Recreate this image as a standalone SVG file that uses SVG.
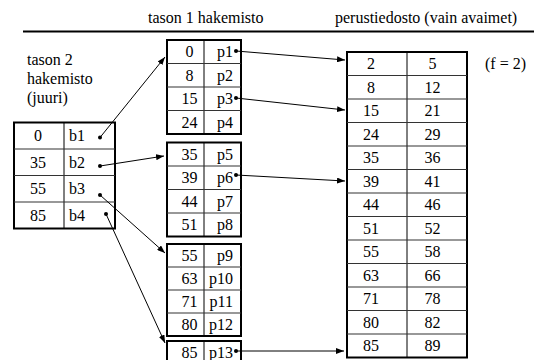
<svg xmlns="http://www.w3.org/2000/svg" width="534" height="360" viewBox="0 0 534 360" font-family="'Liberation Serif', 'DejaVu Serif', serif" font-size="16">
<style>
text{font-family:'Liberation Serif','DejaVu Serif',serif;font-size:16px;fill:#000}
.c{text-anchor:middle}
.e{text-anchor:end}
.box{fill:#fff;stroke:#000;stroke-width:2}
.in{stroke:#333;stroke-width:1.2;fill:none}
.cn{stroke:#000;stroke-width:1;fill:none}
.dot{fill:#000}
</style>
<defs>
<marker id="ah" markerUnits="userSpaceOnUse" markerWidth="8" markerHeight="6" refX="8" refY="3" orient="auto">
<path d="M0,0 L8,3 L0,6 z" fill="#000"/>
</marker>
</defs>
<rect width="534" height="360" fill="#fff"/>
<g id="headers">
<text x="148" y="23">tason 1 hakemisto</text>
<text x="335" y="23">perustiedosto (vain avaimet)</text>
<line x1="23" y1="31.5" x2="534" y2="31.5" stroke="#000" stroke-width="2"/>
<text x="27" y="65">tason 2</text>
<text x="27" y="84">hakemisto</text>
<text x="27" y="103">(juuri)</text>
<text x="485" y="69">(f = 2)</text>
</g>
<g id="root">
<rect class="box" x="14" y="122.5" width="101" height="106"/>
<line class="cn" x1="64" y1="122.5" x2="64" y2="228.5"/>
<line class="in" x1="14" y1="149" x2="115" y2="149"/>
<line class="in" x1="14" y1="175.5" x2="115" y2="175.5"/>
<line class="in" x1="14" y1="202" x2="115" y2="202"/>
<text class="c" x="38" y="141.3">0</text><text x="69" y="141.3">b1</text>
<text class="c" x="38" y="167.8">35</text><text x="69" y="167.8">b2</text>
<text class="c" x="38" y="194.3">55</text><text x="69" y="194.3">b3</text>
<text class="c" x="38" y="220.8">85</text><text x="69" y="220.8">b4</text>
<circle class="dot" cx="100" cy="137.5" r="2"/>
<circle class="dot" cx="100" cy="166" r="2"/>
<circle class="dot" cx="100" cy="195" r="2"/>
<circle class="dot" cx="106" cy="214" r="2"/>
</g>
<g id="l1a">
<rect class="box" x="167" y="40" width="74" height="94"/>
<line class="cn" x1="204" y1="40" x2="204" y2="134"/>
<line class="in" x1="167" y1="63.5" x2="241" y2="63.5"/>
<line class="in" x1="167" y1="87" x2="241" y2="87"/>
<line class="in" x1="167" y1="110.5" x2="241" y2="110.5"/>
<text class="c" x="189.5" y="57.3">0</text><text class="e" x="233" y="57.3">p1</text>
<text class="c" x="189.5" y="80.8">8</text><text class="e" x="233" y="80.8">p2</text>
<text class="c" x="189.5" y="104.3">15</text><text class="e" x="233" y="104.3">p3</text>
<text class="c" x="189.5" y="127.8">24</text><text class="e" x="233" y="127.8">p4</text>
<circle class="dot" cx="236" cy="51" r="2"/>
<circle class="dot" cx="236" cy="98" r="2"/>
</g>
<g id="l1b">
<rect class="box" x="167" y="142.5" width="74" height="94"/>
<line class="cn" x1="204" y1="142.5" x2="204" y2="236.5"/>
<line class="in" x1="167" y1="166" x2="241" y2="166"/>
<line class="in" x1="167" y1="189.5" x2="241" y2="189.5"/>
<line class="in" x1="167" y1="213" x2="241" y2="213"/>
<text class="c" x="189.5" y="159.8">35</text><text class="e" x="233" y="159.8">p5</text>
<text class="c" x="189.5" y="183.3">39</text><text class="e" x="233" y="183.3">p6</text>
<text class="c" x="189.5" y="206.8">44</text><text class="e" x="233" y="206.8">p7</text>
<text class="c" x="189.5" y="230.3">51</text><text class="e" x="233" y="230.3">p8</text>
<circle class="dot" cx="236" cy="175" r="2"/>
</g>
<g id="l1c">
<rect class="box" x="167" y="244" width="74" height="92"/>
<line class="cn" x1="204" y1="244" x2="204" y2="336"/>
<line class="in" x1="167" y1="267" x2="241" y2="267"/>
<line class="in" x1="167" y1="290" x2="241" y2="290"/>
<line class="in" x1="167" y1="313" x2="241" y2="313"/>
<text class="c" x="189.5" y="261">55</text><text class="e" x="233" y="261">p9</text>
<text class="c" x="189.5" y="284">63</text><text class="e" x="233" y="284">p10</text>
<text class="c" x="189.5" y="307">71</text><text class="e" x="233" y="307">p11</text>
<text class="c" x="189.5" y="330">80</text><text class="e" x="233" y="330">p12</text>
</g>
<g id="l1d">
<rect class="box" x="167" y="341" width="74" height="24"/>
<line class="cn" x1="204" y1="341" x2="204" y2="365"/>
<text class="c" x="189.5" y="358">85</text><text class="e" x="233" y="358">p13</text>
<circle class="dot" cx="236" cy="351" r="2"/>
</g>
<g id="data">
<rect class="box" x="347" y="52" width="120" height="305.5"/>
<line class="cn" x1="407" y1="52" x2="407" y2="357.5"/>
<line class="in" x1="347" y1="75.5" x2="467" y2="75.5"/>
<line class="in" x1="347" y1="99" x2="467" y2="99"/>
<line class="in" x1="347" y1="122.5" x2="467" y2="122.5"/>
<line class="in" x1="347" y1="146" x2="467" y2="146"/>
<line class="in" x1="347" y1="169.5" x2="467" y2="169.5"/>
<line class="in" x1="347" y1="193" x2="467" y2="193"/>
<line class="in" x1="347" y1="216.5" x2="467" y2="216.5"/>
<line class="in" x1="347" y1="240" x2="467" y2="240"/>
<line class="in" x1="347" y1="263.5" x2="467" y2="263.5"/>
<line class="in" x1="347" y1="287" x2="467" y2="287"/>
<line class="in" x1="347" y1="310.5" x2="467" y2="310.5"/>
<line class="in" x1="347" y1="334" x2="467" y2="334"/>
<text class="c" x="371" y="69.3">2</text><text class="c" x="432.5" y="69.3">5</text>
<text class="c" x="371" y="92.8">8</text><text class="c" x="432.5" y="92.8">12</text>
<text class="c" x="371" y="116.3">15</text><text class="c" x="432.5" y="116.3">21</text>
<text class="c" x="371" y="139.8">24</text><text class="c" x="432.5" y="139.8">29</text>
<text class="c" x="371" y="163.3">35</text><text class="c" x="432.5" y="163.3">36</text>
<text class="c" x="371" y="186.8">39</text><text class="c" x="432.5" y="186.8">41</text>
<text class="c" x="371" y="210.3">44</text><text class="c" x="432.5" y="210.3">46</text>
<text class="c" x="371" y="233.8">51</text><text class="c" x="432.5" y="233.8">52</text>
<text class="c" x="371" y="257.3">55</text><text class="c" x="432.5" y="257.3">58</text>
<text class="c" x="371" y="280.8">63</text><text class="c" x="432.5" y="280.8">66</text>
<text class="c" x="371" y="304.3">71</text><text class="c" x="432.5" y="304.3">78</text>
<text class="c" x="371" y="327.8">80</text><text class="c" x="432.5" y="327.8">82</text>
<text class="c" x="371" y="351.3">85</text><text class="c" x="432.5" y="351.3">89</text>
</g>
<g id="connectors" class="cn" marker-end="url(#ah)">
<line x1="236" y1="51" x2="345" y2="60"/>
<line x1="236" y1="98" x2="345" y2="110"/>
<line x1="236" y1="175" x2="345" y2="181"/>
<line x1="236" y1="351" x2="344" y2="351"/>
<line x1="100" y1="137.5" x2="165" y2="57"/>
<line x1="100" y1="166" x2="164" y2="156"/>
<line x1="100" y1="195" x2="165" y2="253"/>
<line x1="106" y1="214" x2="165" y2="343"/>
</g>
</svg>
